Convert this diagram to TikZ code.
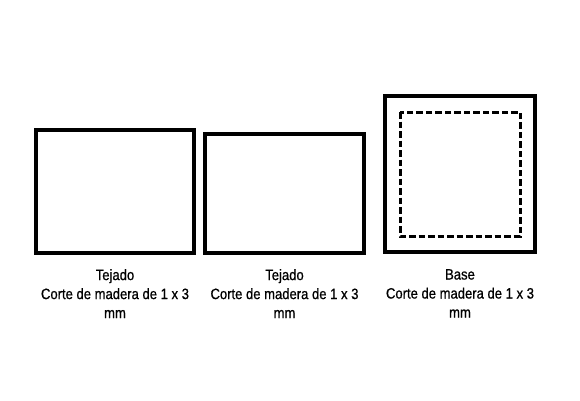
\documentclass[tikz,border=0pt]{standalone}
\usepackage{fontspec}
\newfontfamily\hep[FakeStretch=0.87,FakeBold=0.8]{Liberation Sans}
\tikzset{
	khung/.style={line width=3.2pt},
	khungtrong/.style={line width=3pt,dash pattern=on 6.5pt off 3pt},
	nhan/.style={anchor=north,align=center,inner sep=0pt}
}
\begin{document}
\begin{tikzpicture}[x=1pt,y=-1pt,line join=miter,font=\hep\fontsize{15}{19}\selectfont]
	\useasboundingbox (0,0) rectangle (580,400);
	% ba khung
	\draw[khung] 
	(36,130) rectangle (194,253)
	(205,134) rectangle (364,253)
	(385,96) rectangle (535,252);
	\draw[khungtrong] (400,112) rectangle (520,236);
	% nhan
	\path 
	(115,269) node[nhan] (tejadoA) {Tejado\\Corte de madera de 1 x 3\\mm}
	(284.5,269) node[nhan] (tejadoB) {Tejado\\Corte de madera de 1 x 3\\mm}
	(460,269) node[nhan] (base) {Base\\Corte de madera de 1 x 3\\mm};
\end{tikzpicture}
\end{document}
